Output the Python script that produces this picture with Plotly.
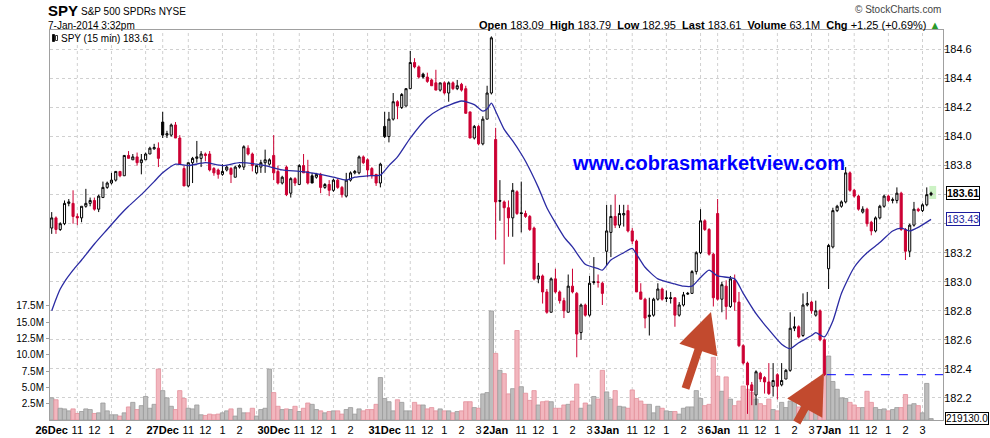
import plotly.graph_objects as go

# ---------------- data ----------------
DAYS = ["26Dec", "27Dec", "30Dec", "31Dec", "2Jan", "3Jan", "6Jan", "7Jan"]
BARS_PER_DAY = 26
HOUR_LABELS = ["11", "12", "1", "2", "3"]
HOUR_OFFSETS = [6, 10, 14, 18, 22]
GRID_OFFSETS = [0, 6, 14, 22]

OPEN = [
    183.37, 183.44, 183.36, 183.40, 183.54, 183.54, 183.45, 183.44, 183.52, 183.54, 183.56, 183.50, 183.58, 183.65, 183.68, 183.70, 183.76, 183.73, 183.87, 183.84, 183.86, 183.82, 183.84, 183.88, 183.915, 183.92,
    184.10, 184.01, 184.01, 184.08, 183.99, 183.78, 183.66, 183.82, 183.85, 183.85, 183.88, 183.88, 183.78, 183.77, 183.74, 183.77, 183.78, 183.72, 183.79, 183.79, 183.92, 183.88, 183.75, 183.79, 183.82, 183.81,
    183.87, 183.76, 183.68, 183.79, 183.61, 183.71, 183.67, 183.80, 183.76, 183.73, 183.72, 183.74, 183.65, 183.67, 183.63, 183.70, 183.65, 183.59, 183.70, 183.75, 183.75, 183.86, 183.84, 183.78, 183.74, 183.68,
    184.07, 184.00, 184.12, 184.24, 184.20, 184.21, 184.33, 184.51, 184.48, 184.43, 184.41, 184.39, 184.37, 184.32, 184.37, 184.30, 184.37, 184.33, 184.36, 184.33, 184.17, 183.99, 184.07, 183.95, 184.12, 184.30,
    183.98, 183.56, 183.55, 183.51, 183.44, 183.62, 183.475, 183.47, 183.45, 183.37, 183.02, 183.04, 182.93, 182.79, 183.02, 182.93, 182.87, 182.79, 182.97, 182.92, 182.65, 182.84, 182.77, 182.995, 183.00, 182.99,
    183.21, 183.34, 183.45, 183.39, 183.46, 183.49, 183.35, 183.28, 182.93, 182.88, 182.76, 182.77, 182.88, 182.95, 182.89, 182.89, 182.89, 182.77, 182.84, 182.915, 182.92, 183.07, 183.20, 183.42, 183.36, 183.19,
    183.47, 182.88, 182.97, 182.83, 183.01, 182.86, 182.56, 182.44, 182.29, 182.22, 182.37, 182.34, 182.31, 182.28, 182.36, 182.29, 182.33, 182.39, 182.68, 182.69, 182.63, 182.84, 182.86, 182.77, 182.80, 182.60,
    183.09, 183.24, 183.49, 183.52, 183.55, 183.75, 183.63, 183.59, 183.48, 183.50, 183.41, 183.35, 183.44, 183.52, 183.59, 183.56, 183.56, 183.61, 183.36, 183.21, 183.39, 183.50, 183.49, 183.53, 183.60,
]
HIGH = [
    183.48, 183.45, 183.41, 183.56, 183.57, 183.63, 183.47, 183.52, 183.64, 183.58, 183.58, 183.60, 183.69, 183.69, 183.75, 183.76, 183.76, 183.87, 183.90, 183.88, 183.89, 183.88, 183.89, 183.93, 183.95, 183.96,
    184.17, 184.04, 184.09, 184.10, 184.01, 183.80, 183.82, 183.86, 183.97, 183.90, 183.89, 183.90, 183.79, 183.78, 183.81, 183.80, 183.79, 183.80, 183.81, 183.94, 183.94, 183.89, 183.80, 183.84, 183.91, 183.85,
    184.01, 183.80, 183.73, 183.80, 183.72, 183.72, 183.81, 183.88, 183.84, 183.75, 183.75, 183.75, 183.68, 183.70, 183.71, 183.71, 183.66, 183.75, 183.76, 183.77, 183.87, 183.87, 183.85, 183.79, 183.74, 183.82,
    184.17, 184.17, 184.30, 184.25, 184.30, 184.33, 184.59, 184.54, 184.49, 184.44, 184.44, 184.40, 184.46, 184.37, 184.38, 184.38, 184.38, 184.39, 184.37, 184.35, 184.17, 184.08, 184.08, 184.14, 184.35, 184.69,
    184.06, 183.70, 183.56, 183.56, 183.68, 183.63, 183.69, 183.49, 183.46, 183.38, 183.13, 183.05, 182.95, 183.03, 183.09, 182.94, 182.89, 183.05, 183.09, 182.93, 182.85, 182.85, 183.04, 183.17, 183.05, 183.00,
    183.53, 183.53, 183.60, 183.53, 183.53, 183.53, 183.37, 183.29, 182.99, 182.89, 182.89, 182.89, 182.99, 182.96, 182.94, 182.93, 182.89, 182.86, 182.93, 182.93, 183.08, 183.21, 183.50, 183.43, 183.37, 183.20,
    183.57, 183.00, 183.01, 183.04, 183.05, 182.93, 182.57, 182.45, 182.31, 182.39, 182.38, 182.35, 182.44, 182.44, 182.37, 182.44, 182.40, 182.79, 182.76, 182.70, 182.92, 182.93, 182.87, 182.87, 182.81, 182.61,
    183.26, 183.51, 183.53, 183.56, 183.79, 183.76, 183.64, 183.60, 183.52, 183.51, 183.42, 183.45, 183.53, 183.60, 183.60, 183.58, 183.65, 183.62, 183.37, 183.40, 183.55, 183.51, 183.54, 183.65, 183.62,
]
LOW = [
    183.33, 183.33, 183.35, 183.39, 183.52, 183.40, 183.39, 183.41, 183.51, 183.52, 183.49, 183.48, 183.58, 183.64, 183.67, 183.69, 183.72, 183.73, 183.85, 183.84, 183.80, 183.74, 183.84, 183.88, 183.91, 183.79,
    183.99, 183.99, 184.00, 183.99, 183.81, 183.66, 183.65, 183.68, 183.82, 183.79, 183.83, 183.76, 183.73, 183.71, 183.73, 183.76, 183.68, 183.72, 183.78, 183.77, 183.87, 183.76, 183.74, 183.75, 183.75, 183.80,
    183.70, 183.67, 183.67, 183.59, 183.58, 183.66, 183.67, 183.75, 183.67, 183.68, 183.71, 183.61, 183.64, 183.59, 183.62, 183.64, 183.58, 183.58, 183.69, 183.74, 183.74, 183.81, 183.72, 183.71, 183.66, 183.65,
    183.99, 183.96, 184.11, 184.12, 184.19, 184.21, 184.33, 184.47, 184.40, 184.40, 184.37, 184.35, 184.32, 184.31, 184.29, 184.24, 184.32, 184.32, 184.31, 184.16, 183.99, 183.98, 183.94, 183.94, 184.12, 184.29,
    183.29, 183.42, 183.12, 183.31, 183.31, 183.46, 183.34, 183.44, 183.35, 183.01, 182.99, 182.85, 182.78, 182.79, 182.92, 182.85, 182.75, 182.79, 182.92, 182.48, 182.60, 182.76, 182.76, 182.98, 182.96, 182.84,
    183.11, 183.17, 183.37, 183.37, 183.38, 183.34, 183.26, 182.93, 182.88, 182.68, 182.63, 182.76, 182.87, 182.87, 182.86, 182.85, 182.69, 182.76, 182.83, 182.91, 182.92, 183.05, 183.19, 183.35, 183.18, 182.83,
    182.87, 182.79, 182.74, 182.82, 182.80, 182.55, 182.43, 182.09, 182.15, 182.15, 182.31, 182.23, 182.22, 182.21, 182.19, 182.28, 182.33, 182.38, 182.66, 182.61, 182.62, 182.83, 182.78, 182.76, 182.59, 182.35,
    182.95, 183.23, 183.48, 183.51, 183.54, 183.62, 183.58, 183.49, 183.47, 183.38, 183.32, 183.34, 183.43, 183.51, 183.55, 183.54, 183.54, 183.35, 183.15, 183.17, 183.38, 183.48, 183.48, 183.52, 183.59,
]
CLOSE = [
    183.44, 183.36, 183.40, 183.54, 183.55, 183.45, 183.44, 183.52, 183.54, 183.56, 183.50, 183.59, 183.65, 183.68, 183.70, 183.76, 183.73, 183.87, 183.85, 183.86, 183.82, 183.84, 183.88, 183.92, 183.925, 183.85,
    184.01, 184.02, 184.08, 183.99, 183.81, 183.66, 183.82, 183.85, 183.86, 183.88, 183.87, 183.77, 183.75, 183.74, 183.76, 183.79, 183.74, 183.79, 183.80, 183.93, 183.88, 183.80, 183.80, 183.82, 183.84, 183.84,
    183.75, 183.68, 183.72, 183.60, 183.71, 183.68, 183.80, 183.75, 183.68, 183.68, 183.74, 183.65, 183.67, 183.63, 183.70, 183.65, 183.60, 183.70, 183.75, 183.76, 183.86, 183.82, 183.77, 183.73, 183.68, 183.81,
    184.00, 184.12, 184.24, 184.21, 184.29, 184.33, 184.51, 184.48, 184.41, 184.41, 184.38, 184.35, 184.32, 184.37, 184.30, 184.37, 184.33, 184.35, 184.32, 184.16, 183.99, 184.07, 183.95, 184.12, 184.30, 184.68,
    183.55, 183.555, 183.51, 183.44, 183.63, 183.47, 183.47, 183.45, 183.36, 183.02, 183.04, 182.93, 182.79, 183.02, 182.93, 182.87, 182.80, 182.97, 182.93, 182.64, 182.84, 182.77, 182.99, 183.00, 182.995, 182.92,
    183.35, 183.45, 183.39, 183.47, 183.47, 183.35, 183.28, 182.93, 182.88, 182.75, 182.77, 182.88, 182.95, 182.88, 182.885, 182.885, 182.77, 182.84, 182.91, 182.92, 183.07, 183.20, 183.42, 183.36, 183.19, 182.89,
    182.88, 182.98, 182.83, 183.02, 182.86, 182.56, 182.44, 182.29, 182.25, 182.38, 182.33, 182.31, 182.23, 182.32, 182.28, 182.32, 182.39, 182.68, 182.69, 182.62, 182.84, 182.85, 182.80, 182.80, 182.60, 182.36,
    183.25, 183.49, 183.52, 183.55, 183.75, 183.63, 183.59, 183.50, 183.50, 183.40, 183.35, 183.44, 183.52, 183.59, 183.56, 183.565, 183.61, 183.36, 183.21, 183.39, 183.50, 183.49, 183.53, 183.60, 183.61,
]
VOLUME_M = [
    3.4, 3.1, 1.8, 1.7, 1.4, 1.7, 1.0, 1.3, 1.7, 1.6, 1.0, 1.1, 2.6, 1.4, 0.8, 0.8, 0.6, 1.1, 2.0, 2.7, 1.6, 2.2, 3.6, 1.8, 2.4, 7.8,
    4.5, 3.4, 2.1, 1.6, 4.5, 3.3, 1.8, 1.7, 2.3, 0.8, 0.7, 0.9, 0.8, 0.9, 1.1, 1.4, 1.7, 0.6, 1.8, 1.1, 1.1, 1.8, 0.6, 1.6, 1.8, 7.8,
    4.2, 2.1, 1.6, 1.7, 1.6, 2.1, 1.3, 1.8, 2.6, 2.4, 1.6, 1.4, 1.1, 1.3, 1.4, 1.4, 0.9, 1.6, 1.9, 0.9, 1.7, 1.4, 1.6, 1.6, 2.4, 6.5,
    3.3, 2.8, 1.4, 3.1, 2.7, 1.4, 1.4, 2.7, 2.3, 2.3, 1.7, 1.9, 1.4, 1.7, 1.4, 1.4, 1.1, 1.3, 1.4, 2.8, 2.8, 1.9, 1.8, 4.0, 4.2, 16.7,
    10.2, 7.6, 7.1, 4.0, 4.8, 13.7, 5.1, 4.1, 3.0, 4.5, 2.3, 2.8, 2.9, 2.8, 1.8, 1.8, 2.3, 2.4, 2.9, 5.5, 1.8, 2.6, 2.3, 3.6, 3.2, 7.6,
    4.3, 3.2, 4.5, 2.1, 2.0, 1.8, 4.6, 3.3, 2.9, 2.4, 2.4, 1.1, 2.1, 1.8, 1.4, 1.3, 1.3, 0.9, 1.8, 2.0, 2.0, 4.5, 3.3, 2.2, 2.4, 9.6,
    6.7, 4.4, 6.6, 3.2, 2.2, 2.9, 5.2, 4.7, 4.2, 3.2, 2.5, 2.2, 3.2, 1.6, 1.4, 2.7, 1.9, 2.9, 3.0, 2.0, 3.5, 2.5, 2.5, 3.0, 5.0, 7.0,
    9.8, 5.9, 4.7, 3.4, 3.3, 2.7, 2.3, 1.9, 1.9, 4.4, 2.7, 1.9, 1.6, 1.7, 1.4, 1.6, 1.9, 1.9, 3.9, 2.3, 2.5, 2.2, 1.1, 5.6, 0.21913,
]
# moving average read at sample bars
MA_BAR = [0, 1, 2, 3, 5, 7, 10, 13, 16, 18, 21, 24, 26, 29, 32, 36, 40, 44, 48, 50, 54, 58, 62, 66, 69, 71, 74, 77,
          79, 81, 84, 88, 91, 93, 96, 99, 101, 102, 103, 104, 106, 108, 110, 111, 114, 116, 120, 122, 125, 128, 129,
          131, 134, 136, 137, 139, 142, 146, 148, 150, 152, 154, 156, 160, 162, 165, 168, 171, 173, 175, 178, 179,
          181, 183, 185, 188, 191, 194, 197, 199, 201, 203, 206]
MA_VAL = [182.80, 182.88, 182.95, 183.00, 183.08, 183.15, 183.26, 183.36, 183.46, 183.52, 183.60, 183.69, 183.75, 183.81,
          183.80, 183.82, 183.80, 183.82, 183.81, 183.80, 183.77, 183.76, 183.745, 183.72, 183.70, 183.72, 183.73, 183.735,
          183.80, 183.86, 183.99, 184.13, 184.19, 184.215, 184.245, 184.22, 184.175, 184.19, 184.23, 184.175, 184.05, 183.97,
          183.88, 183.83, 183.65, 183.51, 183.31, 183.24, 183.12, 183.09, 183.08,
          183.15, 183.20, 183.23, 183.19, 183.10, 183.02, 182.985, 182.97, 182.97, 183.03, 183.08, 183.04, 183.02, 182.92,
          182.78, 182.67, 182.57, 182.54, 182.58, 182.63, 182.65,
          182.62, 182.73, 182.92, 183.10, 183.20, 183.27, 183.35, 183.37, 183.35, 183.375, 183.43]
VOL_TICKS = [2.5, 5.0, 7.5, 10.0, 12.5, 15.0, 17.5]
PRICE_TICKS = [182.2, 182.4, 182.6, 182.8, 183.0, 183.2, 183.4, 183.6, 183.8, 184.0, 184.2, 184.4, 184.6]
HIDDEN_PRICE_LABELS = [183.4, 183.6]   # covered by the value boxes

# ---------------- derived ----------------
N = len(CLOSE)
X = list(range(N))
prev = [OPEN[0]] + CLOSE[:-1]
up = [CLOSE[i] >= prev[i] for i in X]

RED = "#cc0033"
BLACK = "#000000"

def subset(flag):
    idx = [i for i in X if up[i] == flag]
    return (idx, [OPEN[i] for i in idx], [HIGH[i] for i in idx],
            [LOW[i] for i in idx], [CLOSE[i] for i in idx])

fig = go.Figure()

# volume (base axis)
fig.add_trace(go.Bar(
    x=X, y=VOLUME_M, yaxis="y",
    marker=dict(color=["#bdbdbd" if u else "#f2b6be" for u in up],
                line=dict(color=["#9a9a9a" if u else "#e3909c" for u in up], width=0.8)),
    width=1.0, hoverinfo="skip", showlegend=False))

# moving average
fig.add_trace(go.Scatter(
    x=MA_BAR, y=MA_VAL, yaxis="y2", mode="lines",
    line=dict(color="#2b2ba3", width=1.3, shape="spline", smoothing=0.6),
    hoverinfo="skip", showlegend=False))

for flag, col in ((True, BLACK), (False, RED)):
    idx, o, h, l, c = subset(flag)
    fig.add_trace(go.Candlestick(
        x=idx, open=o, high=h, low=l, close=c, yaxis="y2",
        increasing=dict(line=dict(color=col, width=1), fillcolor="#ffffff"),
        decreasing=dict(line=dict(color=col, width=1), fillcolor=col),
        whiskerwidth=0, hoverinfo="skip", showlegend=False))

# ---------------- axes ----------------
tickvals, ticktext = [], []
for d, name in enumerate(DAYS):
    base = d * BARS_PER_DAY
    tickvals.append(base)
    ticktext.append("<b>%s</b>" % name)
    for lab, off in zip(HOUR_LABELS, HOUR_OFFSETS):
        if lab == "3" and d in (0, 1, 2):
            continue
        tickvals.append(base + off)
        ticktext.append(lab)

W, H = 990, 438
L, R, T, B = 50, 47, 30, 18
PW, PH = W - L - R, H - T - B
XMIN, XMAX = -0.4, 208.8

def px(xp):
    return (xp - L) / PW

def py(yp):
    return (H - B - yp) / PH

FONT = "Arial, Liberation Sans, sans-serif"

fig.update_layout(
    width=W, height=H, margin=dict(l=L, r=R, t=T, b=B, autoexpand=False),
    paper_bgcolor="white", plot_bgcolor="white",
    font=dict(family=FONT, size=11, color="black"),
    bargap=0, showlegend=False,
    xaxis=dict(range=[XMIN, XMAX], tickvals=tickvals, ticktext=ticktext, tickangle=0,
               automargin=False, showgrid=False,
               showline=True, linecolor="#a0a0a0", mirror=True, ticks="",
               tickfont=dict(size=11, color="black"), zeroline=False,
               rangeslider=dict(visible=False), fixedrange=True),
    yaxis=dict(range=[0, PH / 6.53], tickvals=VOL_TICKS, automargin=False,
               ticktext=["%.1fM" % v for v in VOL_TICKS], side="left",
               showgrid=False, zeroline=False, ticks="outside", ticklen=3,
               tickcolor="#a0a0a0", tickfont=dict(size=10, color="black"),
               showline=True, linecolor="#a0a0a0"),
    yaxis2=dict(range=[182.048, 184.734], overlaying="y", side="right", automargin=False,
                tickvals=PRICE_TICKS,
                ticktext=["" if v in HIDDEN_PRICE_LABELS else "%.1f" % v for v in PRICE_TICKS],
                showgrid=True, gridcolor="#d0d0d0", griddash="dot", gridwidth=1,
                zeroline=False, ticks="outside", ticklen=3, tickcolor="#a0a0a0",
                tickfont=dict(size=11, color="black"), ticklabelstandoff=-5,
                showline=True, linecolor="#a0a0a0"),
)

# vertical grid lines
for d in range(len(DAYS)):
    for off in GRID_OFFSETS:
        gx = d * BARS_PER_DAY + off
        if gx <= 0 or gx > XMAX:
            continue
        fig.add_shape(type="line", xref="x", yref="paper", x0=gx, x1=gx, y0=0, y1=1,
                      line=dict(color="#d0d0d0", width=1, dash="dot"), layer="below")

# last-price dashed line
fig.add_shape(type="line", xref="x", yref="y2", x0=181.6, x1=XMAX,
              y0=CLOSE[181], y1=CLOSE[181], line=dict(color="#0000ff", width=1, dash="dash"))
# highlight of last candle
fig.add_shape(type="rect", xref="x", yref="y2", x0=205.6, x1=207.2,
              y0=183.57, y1=183.66, fillcolor="#ccf2c4", line=dict(width=0), layer="below")

ann = []
def text(x, y, s, size=10, anchor="left", color="black", **kw):
    ann.append(dict(x=px(x), y=py(y), xref="paper", yref="paper", text=s, showarrow=False,
                    xanchor=anchor, yanchor="middle", font=dict(size=size, color=color, family=FONT), **kw))

text(46, 11, "<b>SPY</b>", size=15)
text(79, 12, "S&P 500 SPDRs NYSE", size=10)
text(46, 25, "7-Jan-2014 3:32pm", size=10)
text(943, 10, "© StockCharts.com", size=10, anchor="right", color="#444444")
text(942, 25, "<b>Open</b> 183.09  <b>High</b> 183.79  <b>Low</b> 182.95  <b>Last</b> 183.61  "
              "<b>Volume</b> 63.1M  <b>Chg</b> +1.25 (+0.69%) <span style='color:#2a9a2a'>▲</span>",
     size=11, anchor="right")
text(59, 38, "SPY (15 min) 183.61", size=10)
text(708, 163, "<b>www.cobrasmarketview.com</b>", size=20, anchor="center", color="#0000ff")

# small chart-type icon before the legend text
for x0, y0, y1, filled in ((52.5, 34.5, 41.5, True), (55.5, 35.5, 40.5, False)):
    fig.add_shape(type="rect", xref="paper", yref="paper",
                  x0=px(x0), x1=px(x0 + 2), y0=py(y1), y1=py(y0),
                  line=dict(color="black", width=0.8), fillcolor="black" if filled else "white")

# right-side value boxes
for val, col, bold in ((CLOSE[-1], "black", True), (MA_VAL[-1], "#1c1c9c", False)):
    ann.append(dict(x=1.0, y=val, xref="paper", yref="y2", xshift=3,
                    text=("<b>%.2f</b>" if bold else "%.2f") % val, showarrow=False,
                    xanchor="left", yanchor="middle", bgcolor="white",
                    bordercolor=col, borderwidth=1, borderpad=0,
                    font=dict(size=10.5, color=col, family=FONT)))
ann.append(dict(x=1.0, y=VOLUME_M[-1], xref="paper", yref="y", xshift=2,
                text="%.1f" % (VOLUME_M[-1] * 1e6), showarrow=False,
                xanchor="left", yanchor="middle", bgcolor="white",
                bordercolor="black", borderwidth=1, borderpad=0,
                font=dict(size=10, color="black", family=FONT)))

# arrows
ARROW = "#c24a2e"
for tip, tail in (((711, 312), (685, 390)), ((824, 373), (796, 424))):
    ann.append(dict(x=px(tip[0]), y=py(tip[1]), xref="paper", yref="paper",
                    ax=tail[0] - tip[0], ay=tail[1] - tip[1], text="", showarrow=True,
                    arrowhead=2, arrowsize=1.0, arrowwidth=8, arrowcolor=ARROW, standoff=0))

fig.update_layout(annotations=ann)
fig.write_html("out.html", config={"displayModeBar": False, "staticPlot": True},
               post_script="document.body.style.margin='0';document.body.style.overflow='hidden';")
